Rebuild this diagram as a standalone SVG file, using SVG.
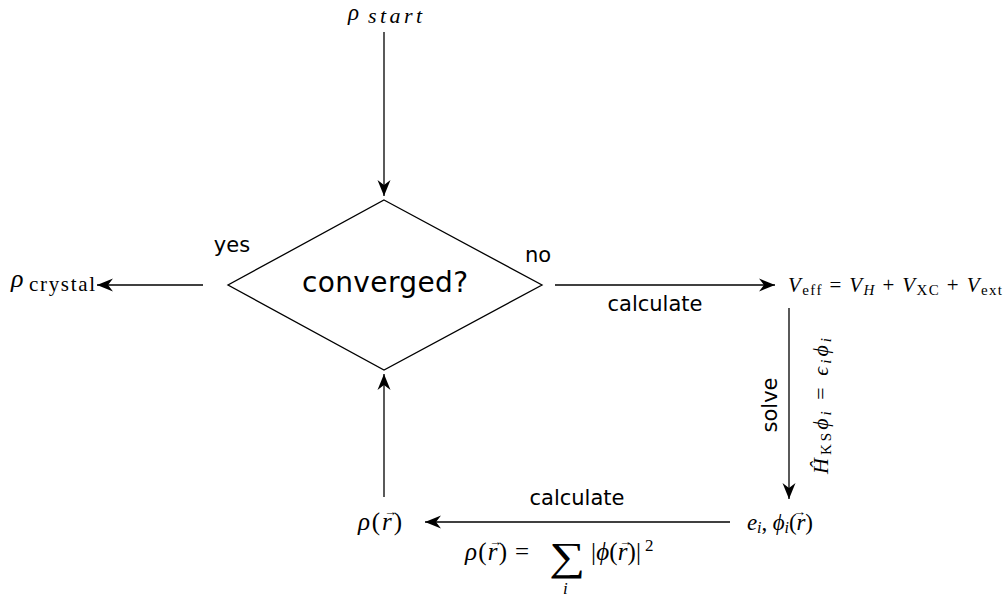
<svg xmlns="http://www.w3.org/2000/svg" width="1005" height="606" viewBox="0 0 1005 606">
<style>
.m{font-family:"Liberation Serif","DejaVu Serif",serif;fill:#000}
.i{font-style:italic}
.s{font-family:"DejaVu Sans","Liberation Sans",sans-serif;fill:#000}
.ln{stroke:#000;stroke-width:1.3;fill:none}
.vec{font-family:"Liberation Serif","DejaVu Serif",serif;font-size:13px;fill:#000}
</style>
<defs>
<marker id="ah" markerUnits="userSpaceOnUse" markerWidth="20" markerHeight="14" viewBox="-17 -7 18 14" refX="0" refY="0" orient="auto">
<path d="M0,0 L-16,-6.5 L-11,0 L-16,6.5 Z" fill="#000"/>
</marker>
</defs>
<rect width="1005" height="606" fill="#fff"/>
<g id="connectors">
<line class="ln" x1="384" y1="32" x2="384" y2="196" marker-end="url(#ah)"/>
<line class="ln" x1="203" y1="285" x2="97" y2="285" marker-end="url(#ah)"/>
<line class="ln" x1="555" y1="285" x2="775" y2="285" marker-end="url(#ah)"/>
<line class="ln" x1="789" y1="308" x2="789" y2="499" marker-end="url(#ah)"/>
<line class="ln" x1="730" y1="522" x2="425" y2="522" marker-end="url(#ah)"/>
<line class="ln" x1="384" y1="497" x2="384" y2="374" marker-end="url(#ah)"/>
<text class="s" x="232" y="252" font-size="21" text-anchor="middle">yes</text>
<text class="s" x="538" y="262" font-size="21" text-anchor="middle">no</text>
<text class="s" x="655" y="311" font-size="21" text-anchor="middle">calculate</text>
<text class="s" x="577" y="505" font-size="21" text-anchor="middle">calculate</text>
<text class="s" font-size="21" text-anchor="middle" transform="translate(777,405) rotate(-90)">solve</text>
<text class="m" font-size="22" textLength="136" transform="translate(828,474) rotate(-90)"><tspan class="i">Ĥ</tspan><tspan font-size="15" dy="3">KS</tspan><tspan class="i" dy="-3">ϕ</tspan><tspan class="i" font-size="15" dy="3">i</tspan><tspan dy="-3"> = </tspan><tspan class="i">ϵ</tspan><tspan class="i" font-size="15" dy="3">i</tspan><tspan class="i" dy="-3">ϕ</tspan><tspan class="i" font-size="15" dy="3">i</tspan></text>
</g>
<g id="start">
<text class="m i" x="348" y="20" font-size="23">ρ</text>
<text class="m i" x="368" y="23" font-size="22" textLength="54">start</text>
</g>
<g id="decision">
<polygon class="ln" points="384,200 542,285 384,370 228,285"/>
<text class="s" x="302" y="292" font-size="28" textLength="166">converged?</text>
</g>
<g id="crystal">
<text class="m i" x="11" y="287" font-size="26">ρ</text>
<text class="m" x="29" y="291" font-size="21" textLength="66">crystal</text>
</g>
<g id="veff">
<text class="m" x="788" y="292" font-size="21" textLength="214"><tspan class="i">V</tspan><tspan font-size="15" dy="3">eff</tspan><tspan dy="-3"> = </tspan><tspan class="i">V</tspan><tspan class="i" font-size="15" dy="3">H</tspan><tspan dy="-3"> + </tspan><tspan class="i">V</tspan><tspan font-size="15" dy="3">XC</tspan><tspan dy="-3"> + </tspan><tspan class="i">V</tspan><tspan font-size="15" dy="3">ext</tspan></text>
</g>
<g id="eigen">
<text class="m" x="747" y="530" font-size="23" textLength="66"><tspan class="i">e</tspan><tspan class="i" font-size="16" dy="3">i</tspan><tspan dy="-3">, </tspan><tspan class="i">ϕ</tspan><tspan class="i" font-size="16" dy="3">i</tspan><tspan dy="-3">(</tspan><tspan class="i">r</tspan><tspan>)</tspan></text>
<text class="vec" x="793" y="516">→</text>
</g>
<g id="density">
<text class="m" x="358" y="530" font-size="25" textLength="44"><tspan class="i">ρ</tspan>(<tspan class="i">r</tspan>)</text>
<text class="vec" x="384" y="516">→</text>
</g>
<g id="formula">
<text class="m" x="465" y="560" font-size="25" textLength="42"><tspan class="i">ρ</tspan>(<tspan class="i">r</tspan>)</text>
<text class="vec" x="489" y="546">→</text>
<text class="m" x="515" y="560" font-size="25" textLength="18">=</text>
<text class="m" x="549" y="570" font-size="40" textLength="36" lengthAdjust="spacingAndGlyphs">∑</text>
<text class="m i" x="563" y="594" font-size="17">i</text>
<text class="m" x="591" y="560" font-size="25" textLength="50">|<tspan class="i">ϕ</tspan>(<tspan class="i">r</tspan>)|</text>
<text class="vec" x="619" y="546">→</text>
<text class="m" x="645" y="551" font-size="17">2</text>
</g>
</svg>
